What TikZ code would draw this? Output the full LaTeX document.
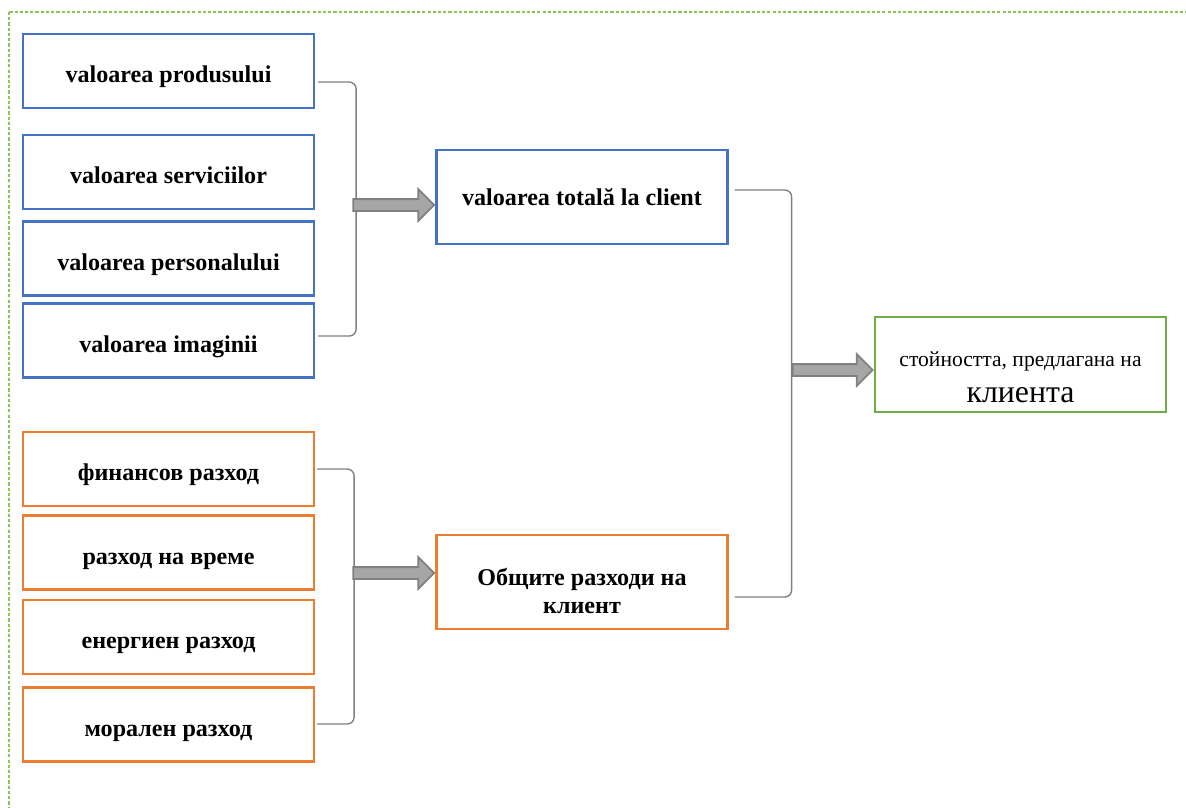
\documentclass[tikz,border=0pt]{standalone}
\usepackage{fontspec}
\setmainfont{Liberation Serif}
\usetikzlibrary{shapes.arrows,calc}
\definecolor{boxblue}{RGB}{68,114,196}
\definecolor{boxorange}{RGB}{237,125,49}
\definecolor{boxgreen}{RGB}{112,173,71}
\definecolor{framegreen}{RGB}{140,196,90}

\tikzset{
  cell/.style={draw, line width=1pt, minimum width=128pt, minimum height=32.5pt, font=\fontsize{10.6}{12}\selectfont\bfseries, align=center, inner sep=2pt},
  cellone/.style={cell, text height=12.6pt, text depth=2.2pt},
  brace/.style={draw=gray, line width=0.6pt, rounded corners=3pt},
  bigarrow/.style={single arrow, draw=gray, fill=gray!70, line width=0.8pt, single arrow head extend=4.4pt, minimum height=35.6pt, inner xsep=0pt, inner ysep=2.2pt, anchor=tip},
}

\begin{document}
\begin{tikzpicture}[x=0.44pt,y=-0.44pt]
\useasboundingbox (0,0) rectangle (1186,807);
%frame
\draw[framegreen, dash pattern=on 1.4pt off 0.9pt, line width=0.5pt] (9,12) rectangle (1200,830);

%value boxes
\node[cellone, draw=boxblue] (prod) at (168.5,71) {valoarea produsului};
\node[cellone, draw=boxblue] (serv) at (168.5,172) {valoarea serviciilor};
\node[cellone, draw=boxblue] (pers) at (168.5,258.5) {valoarea personalului};
\node[cellone, draw=boxblue] (imag) at (168.5,340.5) {valoarea imaginii};

%cost boxes
\node[cellone, draw=boxorange] (fin) at (168.5,469) {финансов разход};
\node[cellone, draw=boxorange] (time) at (168.5,552.5) {разход на време};
\node[cellone, draw=boxorange] (energ) at (168.5,637) {енергиен разход};
\node[cellone, draw=boxorange] (moral) at (168.5,724.5) {морален разход};

%totals
\node[cell, draw=boxblue, minimum height=41.4pt] (total) at (582,197) {valoarea totală la client};
\node[cell, draw=boxorange, minimum height=41.4pt] (costs) at (582,582) {\rule{0pt}{15.5pt}Общите разходи на\\клиент};
\node[cell, draw=boxgreen, minimum height=41.8pt, font=\fontsize{9.5}{14}\selectfont] (offer) at (1020.5,364.5) {\rule{0pt}{17.8pt}стойността, предлагана на\\[2pt]{\fontsize{14}{14}\selectfont клиента}};

%brackets
\coordinate (bu1) at ($(prod.east)+(3,11)$);
\coordinate (bu2) at ($(imag.east)+(3,-4.5)$);
\draw[brace] (bu1) -- ++(38,0) |- (bu2);
\coordinate (bl1) at ($(fin.east)+(2,0)$);
\coordinate (bl2) at ($(moral.east)+(2,-0.5)$);
\draw[brace] (bl1) -- ++(37,0) |- (bl2);
\coordinate (br1) at ($(total.east)+(6,-7)$);
\coordinate (br2) at ($(costs.east)+(6,15)$);
\draw[brace] (br1) -- ++(57,0) |- (br2);

%arrows
\node[bigarrow] (au) at ($(total.west)+(0,8)$) {};
\node[bigarrow] (al) at ($(costs.west)+(0,-9)$) {};
\node[bigarrow, minimum height=35.2pt] (ar) at ($(offer.west)+(0,5.5)$) {};
\end{tikzpicture}
\end{document}
